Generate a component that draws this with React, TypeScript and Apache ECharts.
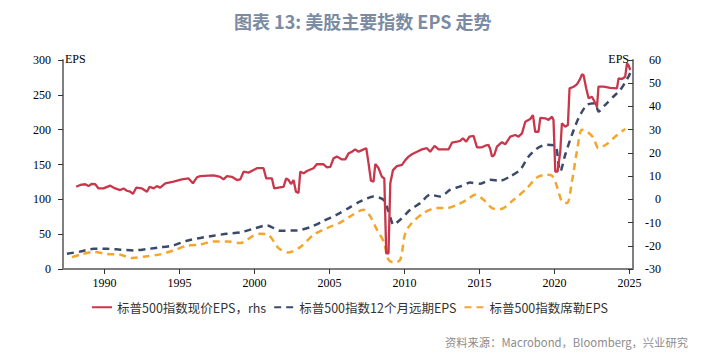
import React, { useEffect, useRef } from "react";
import * as echarts from "echarts";

// ---- Data ----
const xTickYears = [1990, 1995, 2000, 2005, 2010, 2015, 2020, 2025];

// 标普500指数现价EPS, rhs (right axis)
const redYears = [
  1988.11, 1988.38, 1988.71, 1988.93, 1989.16, 1989.38, 1989.6, 1989.93, 1990.38, 1990.71,
  1991.05, 1991.27, 1991.49, 1991.71, 1991.89, 1992.11, 1992.49, 1992.83, 1993.0, 1993.27,
  1993.49, 1993.71, 1994.05, 1994.6, 1995.16, 1995.6, 1995.89, 1996.16, 1996.38, 1996.93,
  1997.27, 1997.71, 1997.93, 1998.16, 1998.49, 1998.83, 1999.05, 1999.27, 1999.6, 1999.93,
  2000.16, 2000.6, 2000.78, 2001.16, 2001.31, 2001.71, 2001.93, 2002.11, 2002.27, 2002.43,
  2002.6, 2002.76, 2002.93, 2003.05, 2003.27, 2003.49, 2003.93, 2004.16, 2004.6, 2004.83,
  2005.05, 2005.27, 2005.49, 2005.83, 2006.05, 2006.27, 2006.49, 2006.71, 2006.93, 2007.16,
  2007.45, 2007.6, 2007.76, 2007.93, 2008.05, 2008.27, 2008.49, 2008.65, 2008.78, 2008.93,
  2009.05, 2009.23, 2009.49, 2009.83, 2010.05, 2010.27, 2010.49, 2010.83, 2011.16, 2011.49,
  2011.71, 2012.0, 2012.27, 2012.93, 2013.16, 2013.49, 2013.71, 2013.89, 2014.11, 2014.33,
  2014.6, 2014.83, 2015.16, 2015.38, 2015.6, 2015.71, 2015.83, 2015.98, 2016.16, 2016.49,
  2016.71, 2017.05, 2017.38, 2017.6, 2017.83, 2018.05, 2018.38, 2018.56, 2018.71, 2018.93,
  2019.05, 2019.38, 2019.6, 2019.83, 2019.93, 2020.05, 2020.2, 2020.38, 2020.49, 2020.71,
  2020.89, 2021.0, 2021.27, 2021.49, 2021.67, 2021.83, 2021.93, 2022.11, 2022.27, 2022.49,
  2022.67, 2022.83, 2022.93, 2023.27, 2023.71, 2024.16, 2024.27, 2024.49, 2024.71, 2024.83,
  2024.93, 2025.05,
];
const redEps = [
  5.4, 6.2, 6.5, 5.7, 6.7, 6.5, 4.7, 4.7, 5.9, 4.7,
  4.0, 4.7, 3.7, 3.3, 2.3, 5.0, 4.7, 3.3, 5.4, 4.7,
  5.7, 5.0, 6.9, 7.6, 8.6, 9.0, 6.9, 9.5, 10.0, 10.2,
  10.3, 9.7, 8.6, 10.0, 9.7, 8.3, 8.6, 11.9, 11.5, 12.6,
  13.4, 13.4, 9.0, 9.0, 4.7, 5.2, 5.4, 9.0, 8.3, 6.6,
  8.3, 3.3, 2.8, 11.9, 11.2, 12.2, 13.4, 15.2, 15.1, 13.8,
  14.0, 17.7, 18.4, 17.2, 17.2, 19.8, 20.5, 21.5, 20.5, 21.2,
  22.0, 15.5, 8.0, 7.6, 15.2, 13.4, 9.7, 9.0, -23.3, -23.3,
  6.9, 12.6, 14.3, 14.8, 16.9, 18.4, 19.4, 20.5, 21.5, 22.0,
  20.5, 23.0, 21.5, 21.5, 24.4, 24.8, 25.2, 26.3, 24.8, 27.0,
  27.3, 22.4, 22.4, 23.1, 23.4, 21.7, 18.4, 19.1, 22.7, 24.6,
  23.7, 27.0, 27.7, 27.0, 28.4, 33.4, 34.6, 36.3, 29.1, 29.1,
  35.1, 34.9, 34.2, 35.6, 34.2, 11.9, 11.9, 20.5, 32.7, 31.3,
  32.0, 47.8, 48.5, 49.5, 51.4, 53.8, 53.5, 47.8, 43.5, 44.2,
  42.0, 39.9, 48.5, 48.5, 48.0, 47.8, 52.1, 51.8, 52.8, 58.5,
  57.8, 55.7,
];

// 标普500指数12个月远期EPS (left axis)
const blueYears = [
  1987.49, 1988.38, 1989.27, 1990.16, 1991.05, 1991.93, 1992.83, 1993.71, 1994.6, 1995.49,
  1996.38, 1997.27, 1998.16, 1999.05, 1999.93, 2000.83, 2001.71, 2002.83, 2003.71, 2004.6,
  2005.49, 2006.27, 2007.05, 2007.93, 2008.6, 2008.93, 2009.27, 2009.71, 2010.38, 2011.05,
  2011.71, 2012.38, 2013.05, 2013.71, 2014.38, 2015.05, 2015.71, 2016.38, 2017.05, 2017.71,
  2018.27, 2018.93, 2019.49, 2020.05, 2020.27, 2020.38, 2020.71, 2021.16, 2021.6, 2022.16,
  2022.71, 2022.93, 2023.38, 2023.93, 2024.38, 2024.93, 2025.05,
];
const blueEps = [
  22, 25, 29, 29, 27.7, 26.7, 28.7, 31, 34, 40.6,
  44.5, 47.8, 50.6, 52.5, 57.8, 62.6, 55, 55.4, 60, 69,
  78, 87.5, 97, 104, 99.4, 82.6, 63.6, 70.7, 85, 94.7,
  106.6, 104, 113.8, 118.5, 124, 122.4, 128, 126.7, 133, 142.5,
  161.5, 174.5, 178.3, 177.3, 149.6, 140, 164, 192.7, 216.6, 235.7,
  238, 226, 235.7, 247.6, 257, 276, 282,
];

// 标普500指数席勒EPS (left axis)
const orangeYears = [
  1987.83, 1988.38, 1989.27, 1990.16, 1991.05, 1991.83, 1992.71, 1993.71, 1994.6, 1995.49,
  1996.38, 1997.27, 1998.16, 1999.05, 1999.93, 2000.38, 2000.93, 2001.6, 2002.27, 2003.05,
  2003.93, 2004.83, 2005.71, 2006.38, 2007.27, 2007.71, 2008.16, 2008.6, 2008.93, 2009.27,
  2009.71, 2010.05, 2010.49, 2011.27, 2012.16, 2012.83, 2013.49, 2014.16, 2014.71, 2015.27,
  2015.83, 2016.38, 2017.27, 2018.16, 2018.83, 2019.49, 2019.83, 2020.16, 2020.49, 2020.83,
  2021.16, 2021.49, 2021.83, 2022.16, 2022.6, 2022.93, 2023.49, 2024.05, 2024.71,
];
const orangeEps = [
  17, 20.5, 24.4, 21.5, 20.5, 15.8, 18, 21, 26.7, 33.4,
  35, 39.6, 39.6, 37.3, 47.8, 50.6, 49, 30, 23.8, 31.5,
  49, 58.8, 66.5, 75.5, 85, 75.5, 56.4, 39.6, 13.3, 9.5,
  13.3, 51.6, 66, 80.3, 87.5, 87.5, 92, 99.4, 106.6, 99.4,
  87.5, 86, 99.4, 116, 131.4, 135.3, 134, 118.5, 97, 94.7,
  125.7, 168.7, 200, 197.4, 188, 173.6, 179.3, 190.3, 201,
];

const seriesNames = ["标普500指数现价EPS，rhs", "标普500指数12个月远期EPS", "标普500指数席勒EPS"];
const titleText = "图表 13: 美股主要指数 EPS 走势";
const sourceText = "资料来源：Macrobond，Bloomberg，兴业研究";

const zip = (xs: number[], ys: number[]) => xs.map((x, i) => [x, ys[i]]);

const SERIF = "Liberation Serif";
const CJK = "Noto Sans CJK SC";
const AXIS_COLOR = "#7f7f7f";

export default function App() {
  const ref = useRef<HTMLDivElement>(null);

  useEffect(() => {
    document.body.style.margin = "0";
    if (!ref.current) return;
    const chart = echarts.init(ref.current, null, { renderer: "svg" });
    chart.setOption({
      animation: false,
      backgroundColor: "#ffffff",
      title: {
        text: titleText,
        left: 229,
        top: 7,
        textStyle: { fontFamily: CJK, fontSize: 18, fontWeight: "bold", color: "#7b8ba3" },
      },
      legend: {
        left: 86,
        top: 296,
        itemWidth: 20,
        itemHeight: 10,
        itemGap: 7,
        itemStyle: { opacity: 0 },
        textStyle: { fontFamily: CJK, fontSize: 12.5, color: "#333333" },
        data: seriesNames,
      },
      grid: { left: 63, right: 86, top: 60, bottom: 88, containLabel: false },
      xAxis: {
        type: "value",
        min: 1987.23,
        max: 2025.23,
        splitLine: { show: false },
        axisLine: { show: true, lineStyle: { color: AXIS_COLOR, width: 2 } },
        axisTick: { show: true, length: 5, lineStyle: { color: "#333", width: 1 }, customValues: xTickYears },
        axisLabel: {
          customValues: xTickYears,
          margin: 8,
          fontFamily: SERIF,
          fontSize: 12,
          color: "#000",
          formatter: (v: number) => String(Math.round(v)),
        },
      },
      yAxis: [
        {
          type: "value",
          min: 0,
          max: 300,
          interval: 50,
          position: "left",
          splitLine: { show: false },
          axisLine: { show: true, lineStyle: { color: AXIS_COLOR, width: 2 } },
          axisTick: { show: true, length: 5, lineStyle: { color: "#333", width: 1 } },
          axisLabel: { margin: 12, fontFamily: SERIF, fontSize: 12, color: "#000" },
        },
        {
          type: "value",
          min: -30,
          max: 60,
          interval: 10,
          position: "right",
          splitLine: { show: false },
          axisLine: { show: true, lineStyle: { color: AXIS_COLOR, width: 2 } },
          axisTick: { show: true, inside: true, length: 5, lineStyle: { color: "#333", width: 1 } },
          axisLabel: { margin: 28, align: "right", fontFamily: SERIF, fontSize: 12, color: "#000" },
        },
      ],
      series: [
        {
          name: seriesNames[0],
          type: "line",
          yAxisIndex: 1,
          symbol: "none",
          data: zip(redYears, redEps),
          lineStyle: { color: "#c8374b", width: 2.3, type: "solid" },
          itemStyle: { color: "#c8374b" },
          z: 3,
        },
        {
          name: seriesNames[1],
          type: "line",
          yAxisIndex: 0,
          symbol: "none",
          smooth: 0.25,
          data: zip(blueYears, blueEps),
          lineStyle: { color: "#3c4a6a", width: 2.5, type: [7, 5] },
          itemStyle: { color: "#3c4a6a" },
          z: 2,
        },
        {
          name: seriesNames[2],
          type: "line",
          yAxisIndex: 0,
          symbol: "none",
          smooth: 0.3,
          data: zip(orangeYears, orangeEps),
          lineStyle: { color: "#f5a52a", width: 2.5, type: [7, 5] },
          itemStyle: { color: "#f5a52a" },
          z: 2,
        },
      ],
      graphic: [
        {
          type: "text",
          left: 65,
          top: 53,
          style: { text: "EPS", fontFamily: SERIF, fontSize: 12, fill: "#000" },
        },
        {
          type: "text",
          right: 90,
          top: 53,
          style: { text: "EPS", fontFamily: SERIF, fontSize: 12, fill: "#000" },
        },
        {
          type: "text",
          right: 31,
          top: 336,
          style: { text: sourceText, fontFamily: CJK, fontSize: 11.3, fill: "#8c8c8c" },
        },
      ],
    });
    return () => chart.dispose();
  }, []);

  return <div ref={ref} style={{ width: 719, height: 357 }} />;
}
